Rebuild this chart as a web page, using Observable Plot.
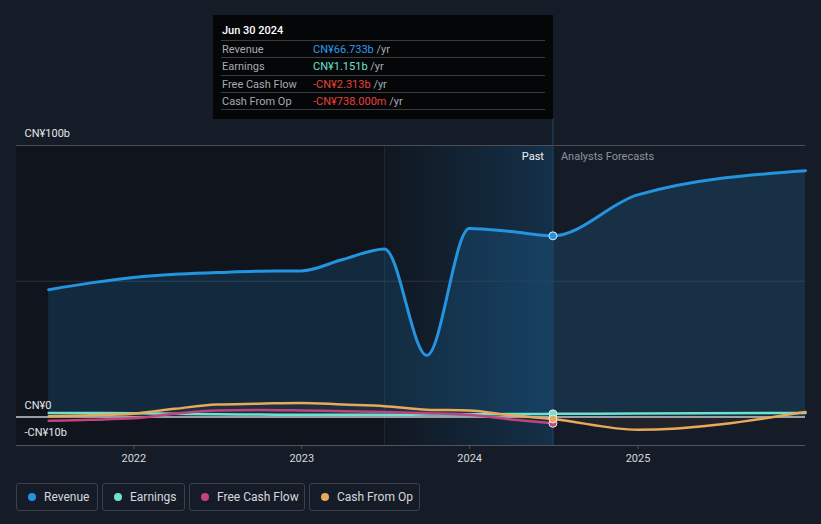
<!DOCTYPE html>
<html><head><meta charset="utf-8">
<script src="https://cdn.jsdelivr.net/npm/d3@7"></script>
<script src="https://cdn.jsdelivr.net/npm/@observablehq/plot@0.6"></script>
<style>
html,body{margin:0;padding:0;background:#161c27;}
body{font-family:Roboto,"Noto Sans",sans-serif;}
#wrap{position:relative;width:821px;height:524px;overflow:hidden;background:#161c27;}
#chart{position:absolute;left:0;top:0;}
#tip{position:absolute;left:213px;top:15px;width:340px;height:104px;background:#050608;color:#fff;font-size:11px;}
#tip .date{position:absolute;left:9px;top:9px;font-weight:500;color:#fff;}
#tip .row{position:absolute;left:8px;width:324px;height:17px;border-top:1px solid #3a3c40;}
#tip .row .lab{position:absolute;left:1px;top:2px;color:#a6abb2;}
#tip .row .val{position:absolute;left:92px;top:2px;}
#tip .row .unit{color:#a6abb2;}
#legend{position:absolute;left:16px;top:483px;height:28px;}
.item{position:absolute;top:0;height:26px;border:1px solid #3b414b;border-radius:3px;font-size:12px;color:#d5d8dc;}
.item .dot{position:absolute;left:11px;top:9px;width:8px;height:8px;border-radius:50%;}
.item .txt{position:absolute;left:27px;top:6px;white-space:nowrap;}
</style></head><body>
<div id="wrap">
  <div id="chart"></div>
  <div id="tip"></div>
  <div id="legend"></div>
</div>
<script>
// ---- data (CN¥ billions, trailing twelve months; last two are analyst forecasts) ----
const pastDates = ["2021-06-30","2021-09-30","2021-12-31","2022-03-31","2022-06-30","2022-09-30","2022-12-31","2023-03-31","2023-06-30","2023-09-30","2023-12-31","2024-03-31","2024-06-30"];
const forecastDates = ["2024-12-31","2025-12-31"];
const revenue = [46.9, 49.4, 51.4, 52.6, 53.2, 53.7, 53.8, 58.0, 61.9, 22.7, 69.4, 68.3, 66.733, 81.8, 90.7];
const earnings = [1.5, 1.5, 1.4, 1.2, 1.0, 0.9, 0.8, 0.8, 0.8, 0.9, 1.0, 1.1, 1.151, 1.3, 1.5];
const freeCashFlow = [-1.4, -1.0, -0.5, 1.2, 2.4, 2.6, 2.4, 2.1, 1.8, 1.4, 0.8, -0.9, -2.313];
const cashFromOp = [0.3, 0.6, 1.2, 3.0, 4.6, 4.9, 5.2, 4.6, 4.0, 2.7, 2.4, 0.6, -0.738, -4.7, 1.8];
const seriesNames = ["Revenue", "Earnings", "Free Cash Flow", "Cash From Op"];
const seriesColors = ["#2394df", "#6ce3cf", "#c4437f", "#e8a95a"];
const yTickValues = [100, 0, -10];
const yTickLabels = ["CN¥100b", "CN¥0", "-CN¥10b"];
const gridValues = [100, 50];
const tooltipDate = "Jun 30 2024";
const tooltipValues = ["CN¥66.733b", "CN¥1.151b", "-CN¥2.313b", "-CN¥738.000m"];
const tooltipColors = ["#2e9be8", "#6ce3cf", "#e8413c", "#e8413c"];

const parse = d3.utcParse("%Y-%m-%d");
const allDates = pastDates.concat(forecastDates).map(parse);
const rows = allDates.map((d, i) => ({
  date: d,
  revenue: revenue[i],
  earnings: earnings[i],
  fcf: freeCashFlow[i],
  cfo: cashFromOp[i]
}));
const fcfRows = rows.filter(r => r.fcf !== undefined);
const xMin = parse("2021-04-21"), xMax = parse("2025-12-31");
const yMin = -10.5, yMax = 100;
const bandStart = parse("2023-06-30"), nowDate = parse("2024-06-30");
const lastRow = rows[pastDates.length - 1];

const defs = () => {
  const ns = "http://www.w3.org/2000/svg";
  const g = document.createElementNS(ns, "defs");
  g.innerHTML = `<linearGradient id="hl" x1="0" x2="1" y1="0" y2="0">
     <stop offset="0" stop-color="#1e6aa6" stop-opacity="0.02"/>
     <stop offset="1" stop-color="#1e6aa6" stop-opacity="0.32"/></linearGradient>`;
  return g;
};

const chart = Plot.plot({
  width: 821, height: 470,
  marginTop: 145, marginBottom: 25, marginLeft: 16, marginRight: 16,
  style: {background: "transparent", fontFamily: "Roboto, sans-serif", fontSize: "11px", color: "#d6d8db", overflow: "visible"},
  x: {type: "utc", domain: [xMin, xMax]},
  y: {domain: [yMin, yMax], axis: null},
  marks: [
    defs,
    Plot.rect([{a: xMin, b: nowDate}], {x1: "a", x2: "b", y1: yMin, y2: yMax, fill: "#10151d"}),
    Plot.rect([{a: bandStart, b: nowDate}], {x1: "a", x2: "b", y1: yMin, y2: yMax, fill: "url(#hl)"}),
    Plot.ruleX([bandStart], {y1: yMin, y2: yMax, stroke: "#182a3d", strokeWidth: 1}),
    Plot.ruleY([gridValues[0]], {stroke: "#4a4f57", strokeWidth: 1}),
    Plot.ruleY([gridValues[1]], {stroke: "#2a3340", strokeWidth: 1}),
    Plot.areaY(rows, {x: "date", y: "revenue", curve: "monotone-x", fill: seriesColors[0], fillOpacity: 0.17}),
    Plot.areaY(rows, {x: "date", y: "cfo", curve: "monotone-x", fill: seriesColors[3], fillOpacity: 0.05}),
    Plot.ruleX([nowDate], {y1: yMin, y2: 110, stroke: "#1f4b6d", strokeWidth: 1}),
    Plot.ruleY([0], {stroke: "#c8cacc", strokeWidth: 1.5}),
    Plot.line(rows, {x: "date", y: "earnings", curve: "monotone-x", stroke: seriesColors[1], strokeWidth: 2.5}),
    Plot.line(fcfRows, {x: "date", y: "fcf", curve: "monotone-x", stroke: seriesColors[2], strokeWidth: 2.5}),
    Plot.line(rows, {x: "date", y: "cfo", curve: "monotone-x", stroke: seriesColors[3], strokeWidth: 2.5}),
    Plot.line(rows, {x: "date", y: "revenue", curve: "monotone-x", stroke: seriesColors[0], strokeWidth: 3}),
    Plot.dot([lastRow], {x: "date", y: "revenue", r: 4, fill: seriesColors[0], stroke: "#e6e8ea", strokeWidth: 1}),
    Plot.dot([lastRow], {x: "date", y: "earnings", r: 4, fill: seriesColors[1], stroke: "#e6e8ea", strokeWidth: 1}),
    Plot.dot([lastRow], {x: "date", y: "fcf", r: 4, fill: seriesColors[2], stroke: "#e6e8ea", strokeWidth: 1}),
    Plot.dot([lastRow], {x: "date", y: "cfo", r: 4, fill: seriesColors[3], stroke: "#e6e8ea", strokeWidth: 1}),
    Plot.text(yTickValues.map((v, i) => ({v, t: yTickLabels[i]})), {x: xMin, y: "v", text: "t", dx: 8, dy: -12, textAnchor: "start", fill: "#e4e6e8", fontSize: 11}),
    Plot.text([{t: "Past"}], {x: nowDate, y: yMax, text: "t", dx: -9, dy: 11, textAnchor: "end", fill: "#f2f2f2", fontSize: 11}),
    Plot.text([{t: "Analysts Forecasts"}], {x: nowDate, y: yMax, text: "t", dx: 8, dy: 11, textAnchor: "start", fill: "#8d939b", fontSize: 11}),
    Plot.ruleY([yMin], {stroke: "#50555d", strokeWidth: 1}),
    Plot.axisX({ticks: d3.utcYear.every(1), tickFormat: "%Y", tickSize: 4, stroke: "#50555d", fill: "#d6d8db", tickPadding: 5, fontSize: 11})
  ]
});
document.getElementById("chart").appendChild(chart);

// tooltip
const tip = document.getElementById("tip");
let html = `<div class="date">${tooltipDate}</div>`;
const rowTops = [25, 42, 60, 77];
seriesNames.forEach((n, i) => {
  html += `<div class="row" style="top:${rowTops[i]}px"><span class="lab">${n}</span><span class="val"><span style="color:${tooltipColors[i]}">${tooltipValues[i]}</span> <span class="unit">/yr</span></span></div>`;
});
html += `<div class="row" style="top:94px;height:0"></div>`;
tip.innerHTML = html;

// legend
const legend = document.getElementById("legend");
const lefts = [0, 86, 173, 293];
const widths = [80, 81, 114, 109];
legend.innerHTML = seriesNames.map((n, i) =>
  `<div class="item" style="left:${lefts[i]}px;width:${widths[i]}px"><span class="dot" style="background:${seriesColors[i]}"></span><span class="txt">${n}</span></div>`
).join("");
</script>
</body></html>
